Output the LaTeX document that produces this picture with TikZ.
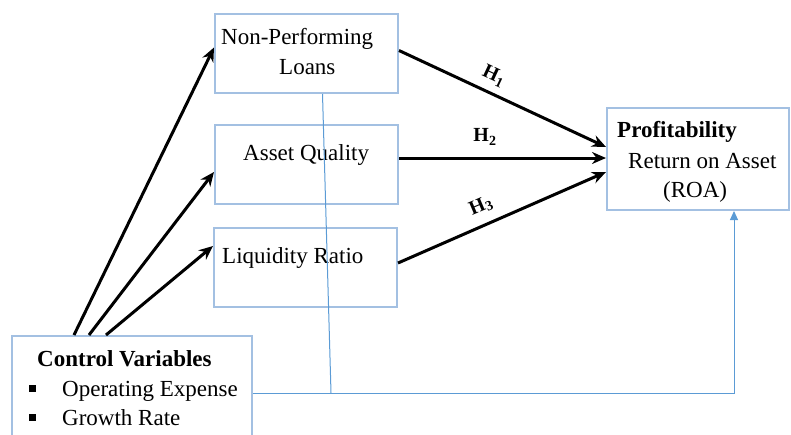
\documentclass[tikz,border=0pt]{standalone}
\usepackage{fontspec}
\setmainfont{Liberation Serif}
\usetikzlibrary{arrows.meta}
\definecolor{boxblue}{RGB}{163,192,226}
\definecolor{lineblue}{RGB}{91,155,213}

\begin{document}
\begin{tikzpicture}[x=1pt,y=-1pt,
    box/.style={draw=boxblue, line width=2pt, inner sep=0pt, minimum width=183pt, minimum height=79pt},
    txt/.style={inner sep=0pt, anchor=base west, font=\fontsize{23}{27}\selectfont},
    hyp/.style={inner sep=0pt, font=\fontsize{20}{22}\selectfont\bfseries},
    bigarrow/.style={-{Stealth[length=14pt,width=12pt]}, line width=3pt},
    blueline/.style={draw=lineblue, line width=1pt}]
        \useasboundingbox (0,0) rectangle (791,434);
        \clip (0,0) rectangle (791,434);

        % Boxes
        \node[box] (npl) at (306.5,53.5) {};
        \node[box] (aq) at (306.5,164) {};
        \node[box] (lr) at (305.5,267) {};
        \node[box, minimum width=182pt, minimum height=102pt] (prof) at (698,159) {};
        \node[box, minimum width=240pt, minimum height=110pt] (cv) at (132,391) {};

        % Texts
        \node[txt] (t1) at (221,44) {Non-Performing};
        \node[txt] (t2) at (279,74) {Loans};
        \node[txt] (t3) at (243,160) {Asset Quality};
        \node[txt] (t4) at (222,263) {Liquidity Ratio};
        \node[txt, font=\fontsize{23}{27}\selectfont\bfseries] (t5) at (617,137) {Profitability};
        \node[txt] (t6) at (628,168) {Return on Asset};
        \node[txt] (t7) at (663,197) {(ROA)};
        \node[txt, font=\fontsize{23}{27}\selectfont\bfseries] (t8) at (37,366) {Control Variables};
        \node[txt] (t9) at (62,396) {Operating Expense};
        \node[txt] (t10) at (62,425) {Growth Rate};
        \node[fill, inner sep=0pt, minimum size=7pt] (b1) at (32,388) {};
        \node[fill, inner sep=0pt, minimum size=7pt] (b2) at (32,417) {};

        % Arrows from control variables
        \draw[bigarrow] ([xshift=63pt]cv.north west) -- ([yshift=6pt]npl.west);
        \draw[bigarrow] ([xshift=78pt]cv.north west) -- ([yshift=-8pt]aq.west);
        \draw[bigarrow] ([xshift=95pt]cv.north west) -- ([yshift=21pt]lr.west);

        % Hypotheses
        \draw[bigarrow] ([yshift=3pt]npl.east) -- ([yshift=12pt]prof.west);
        \draw[bigarrow] ([yshift=6pt]aq.east) -- ([yshift=1pt]prof.west);
        \draw[bigarrow] ([yshift=4pt]lr.east) -- ([yshift=-13pt]prof.west);
        \node[hyp, rotate=-25] (h1) at (494,76) {H\textsubscript{1}};
        \node[hyp] (h2) at (485,137) {H\textsubscript{2}};
        \node[hyp, rotate=23] (h3) at (481,206) {H\textsubscript{3}};

        % Blue lines
        \coordinate (jn) at (331,393);
        \draw[blueline] ([xshift=16pt]npl.south) -- (jn);
        \draw[blueline, -{Triangle[length=9pt,width=8pt]}] ([yshift=-2pt]cv.east) -| ([xshift=36pt]prof.south);
\end{tikzpicture}
\end{document}
